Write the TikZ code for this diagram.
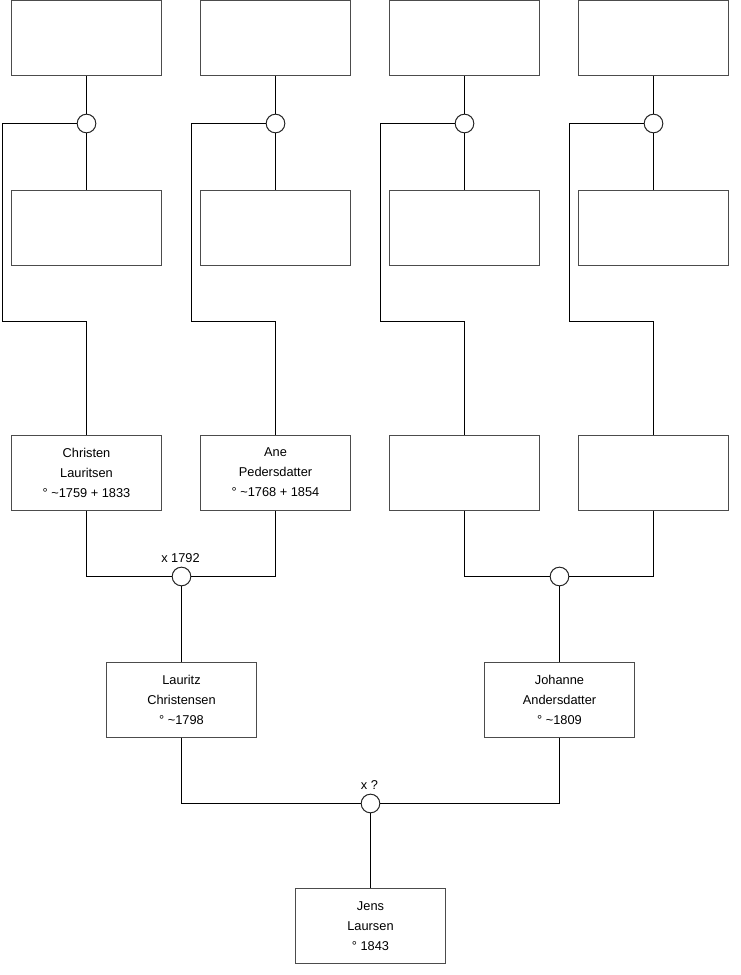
\documentclass[tikz,border=0pt]{standalone}
\usepackage{fontspec}
\setmainfont{Liberation Sans}
\begin{document}
\begin{tikzpicture}[x=0.75pt,y=-0.75pt,
  person/.style={draw=black!70,line width=0.75pt,fill=white,minimum width=112.5pt,minimum height=56.25pt,inner sep=0pt,align=center,font=\fontsize{9.6}{15}\selectfont},
  union/.style={draw=black!85,line width=0.75pt,fill=white,circle,minimum size=14pt,inner sep=0pt},
  link/.style={draw=black,line width=0.75pt},
  lbl/.style={font=\fontsize{9.6}{11}\selectfont,inner sep=0pt}]
\useasboundingbox (0,0) rectangle (740,975);
% top rows
\foreach \c/\x in {a/86.5,b/275.5,c/464.5,d/653.5}{
  \node[person] (t\c) at (\x,38) {};
  \node[person] (m\c) at (\x,227.5) {};
  \node[union] (u\c) at (\x,123.5) {};
}
\coordinate (ka) at (2.5,123.5);   \coordinate (la) at (2.5,321.5);   \coordinate (na) at (86.5,321.5);
\coordinate (kb) at (191.5,123.5); \coordinate (lb) at (191.5,321.5); \coordinate (nb) at (275.5,321.5);
\coordinate (kc) at (380.5,123.5); \coordinate (lc) at (380.5,321.5); \coordinate (nc) at (464.5,321.5);
\coordinate (kd) at (569.5,123.5); \coordinate (ld) at (569.5,321.5); \coordinate (nd) at (653.5,321.5);
% third row
\node[person] (pa) at (86.5,472.5) {Christen\\Lauritsen\\° \textasciitilde1759 + 1833};
\node[person] (pb) at (275.5,472.5) {Ane\\Pedersdatter\\° \textasciitilde1768 + 1854};
\node[person] (pc) at (464.5,472.5) {};
\node[person] (pd) at (653.5,472.5) {};
\foreach \c in {a,b,c,d}{
  \draw[link] (t\c) -- (u\c);
  \draw[link] (u\c) -- (m\c);
  \draw[link] (u\c.west) -- (k\c) -- (l\c) -- (n\c) -- (p\c.north);
}
% grandparents unions
\node[union] (g1) at (181.5,576.5) {};
\node[union] (g2) at (559.5,576.5) {};
\node[lbl] (g1l) at (180.5,558) {x 1792};
\draw[link] (pa.south) |- (g1.west);
\draw[link] (pb.south) |- (g1.east);
\draw[link] (pc.south) |- (g2.west);
\draw[link] (pd.south) |- (g2.east);
% parents
\node[person] (lau) at (181.5,699.5) {Lauritz\\Christensen\\° \textasciitilde1798};
\node[person] (joh) at (559.5,699.5) {Johanne\\Andersdatter\\° \textasciitilde1809};
\draw[link] (g1) -- (lau);
\draw[link] (g2) -- (joh);
\node[union] (u0) at (370.5,803.5) {};
\node[lbl] (u0l) at (369.5,785) {x ?};
\draw[link] (lau.south) |- (u0.west);
\draw[link] (joh.south) |- (u0.east);
\node[person] (jens) at (370.5,926) {Jens\\Laursen\\° 1843};
\draw[link] (u0) -- (jens);
\end{tikzpicture}
\end{document}
